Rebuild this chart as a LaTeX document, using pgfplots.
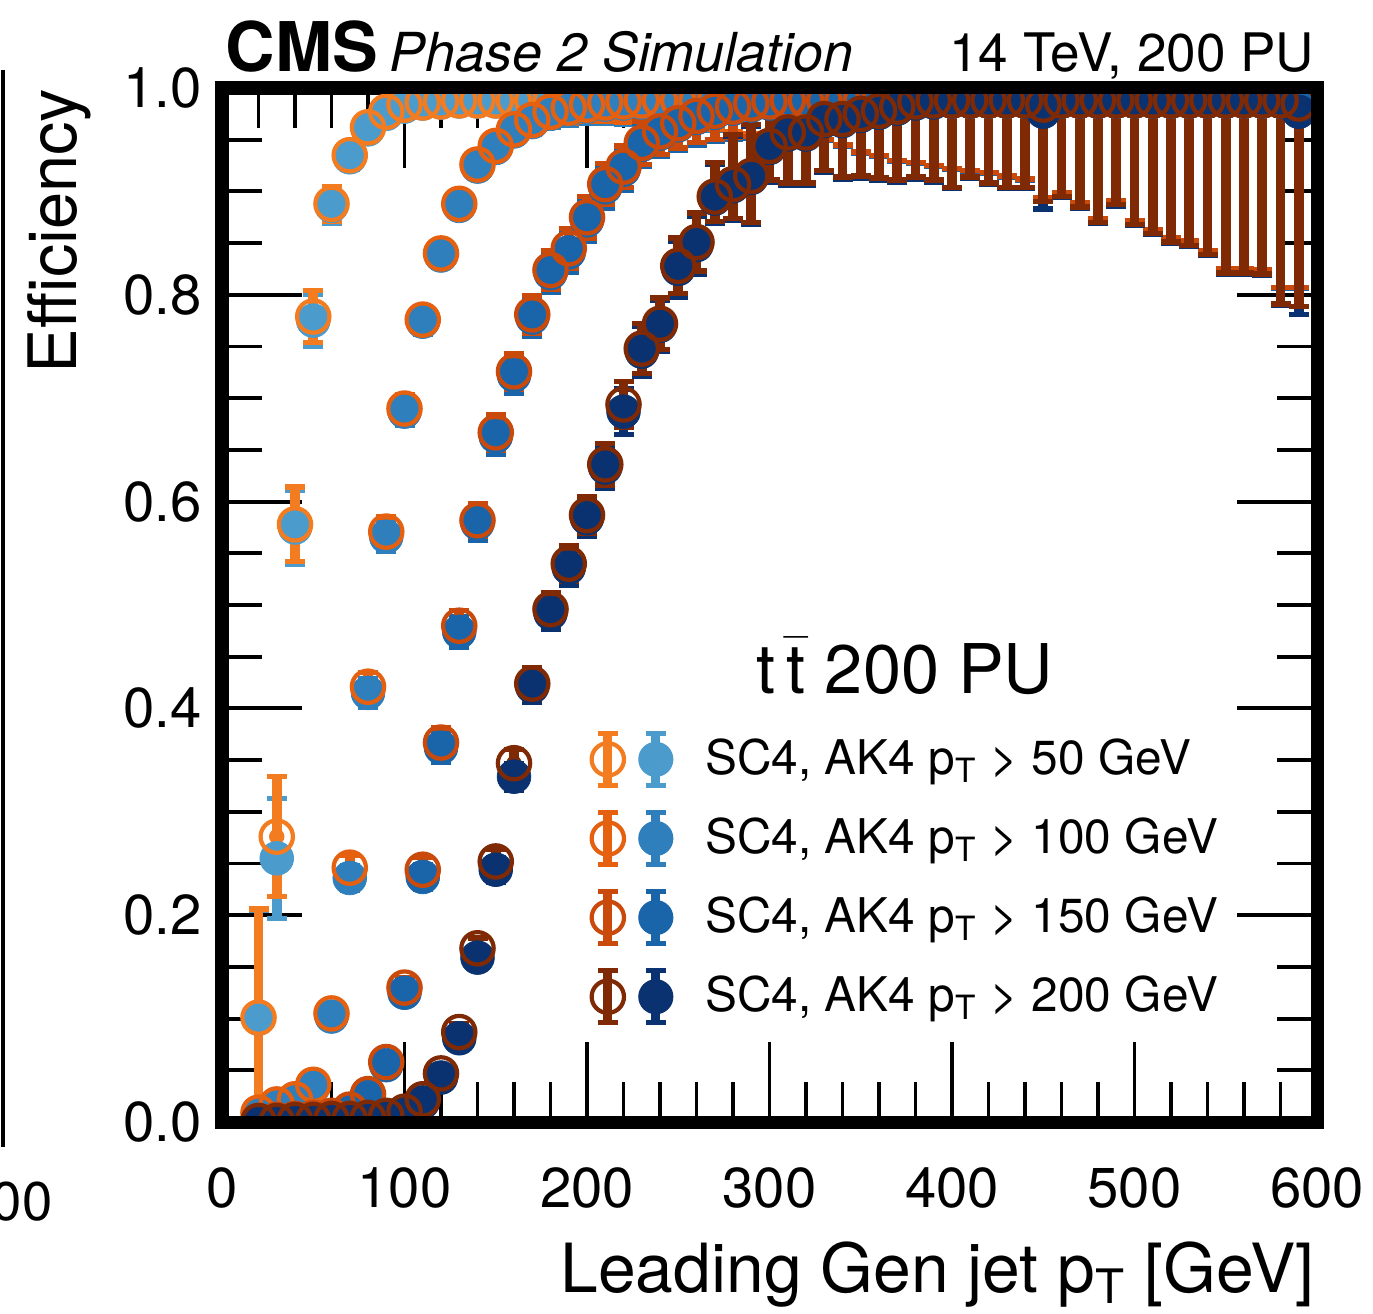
\documentclass[border=0pt]{standalone}
\usepackage{fontspec}
\setmainfont{TeX Gyre Heros}
\usepackage{pgfplots}
\usepackage{pgfplotstable}
\pgfplotsset{compat=1.18}

\definecolor{scA}{HTML}{F47C20}
\definecolor{scB}{HTML}{E5600F}
\definecolor{scC}{HTML}{C94A0A}
\definecolor{scD}{HTML}{7F2A04}
\definecolor{akA}{HTML}{4B9BCC}
\definecolor{akB}{HTML}{2F7FBD}
\definecolor{akC}{HTML}{1A65AA}
\definecolor{akD}{HTML}{0A3270}

% columns: x, AK4 eff, SC4 eff, error minus, error plus
\pgfplotstableread{
x ak sc em ep
20 0.100 0.101 0.100 0.105
30 0.255 0.276 0.058 0.058
40 0.575 0.578 0.036 0.036
50 0.775 0.779 0.025 0.025
60 0.886 0.888 0.017 0.017
70 0.933 0.935 0.012 0.012
80 0.960 0.962 0.008 0.008
90 0.975 0.977 0.006 0.006
100 0.982 0.984 0.005 0.005
110 0.985 0.986 0.005 0.005
120 0.986 0.987 0.006 0.006
130 0.987 0.988 0.007 0.007
140 0.987 0.988 0.008 0.008
150 0.987 0.988 0.010 0.010
160 0.987 0.988 0.011 0.011
170 0.987 0.988 0.012 0.012
180 0.987 0.988 0.013 0.012
190 0.987 0.988 0.015 0.012
200 0.987 0.988 0.016 0.012
210 0.987 0.988 0.018 0.012
220 0.987 0.988 0.020 0.012
230 0.987 0.988 0.021 0.012
240 0.987 0.988 0.023 0.012
250 0.987 0.988 0.025 0.012
260 0.987 0.988 0.026 0.012
270 0.987 0.988 0.028 0.012
280 0.987 0.988 0.030 0.012
290 0.987 0.988 0.032 0.012
300 0.987 0.988 0.033 0.012
310 0.987 0.988 0.035 0.012
320 0.987 0.988 0.037 0.012
330 0.987 0.988 0.038 0.012
340 0.987 0.988 0.043 0.012
350 0.987 0.988 0.050 0.012
360 0.987 0.988 0.053 0.012
370 0.987 0.988 0.058 0.012
380 0.987 0.988 0.060 0.012
390 0.987 0.988 0.063 0.012
400 0.987 0.988 0.066 0.012
410 0.987 0.988 0.068 0.012
420 0.987 0.988 0.070 0.012
430 0.987 0.988 0.073 0.012
440 0.987 0.988 0.076 0.012
450 0.987 0.988 0.094 0.012
460 0.987 0.988 0.089 0.012
470 0.987 0.988 0.099 0.012
480 0.987 0.988 0.114 0.012
490 0.987 0.988 0.097 0.012
500 0.987 0.988 0.116 0.012
510 0.987 0.988 0.125 0.012
520 0.987 0.988 0.133 0.012
530 0.987 0.988 0.136 0.012
540 0.987 0.988 0.145 0.012
550 0.987 0.988 0.163 0.012
560 0.987 0.988 0.163 0.012
570 0.987 0.988 0.164 0.012
580 0.987 0.988 0.181 0.012
590 0.987 0.988 0.181 0.012
}\tabA

\pgfplotstableread{
x ak sc em ep
20 0.008 0.009 0.005 0.005
30 0.015 0.017 0.006 0.006
40 0.020 0.022 0.006 0.006
50 0.034 0.036 0.007 0.007
60 0.102 0.105 0.008 0.008
70 0.236 0.246 0.012 0.012
80 0.415 0.421 0.014 0.014
90 0.566 0.571 0.014 0.014
100 0.687 0.690 0.013 0.013
110 0.774 0.776 0.012 0.012
120 0.838 0.840 0.011 0.011
130 0.886 0.888 0.010 0.010
140 0.924 0.926 0.009 0.009
150 0.942 0.944 0.010 0.010
160 0.958 0.960 0.011 0.011
170 0.967 0.969 0.012 0.012
180 0.975 0.977 0.013 0.010
190 0.979 0.981 0.015 0.010
200 0.982 0.984 0.016 0.010
210 0.984 0.986 0.018 0.010
220 0.985 0.987 0.020 0.010
230 0.986 0.988 0.021 0.010
240 0.987 0.988 0.023 0.012
250 0.987 0.988 0.025 0.012
260 0.987 0.988 0.026 0.012
270 0.987 0.988 0.028 0.012
280 0.987 0.988 0.030 0.012
290 0.987 0.988 0.032 0.012
300 0.987 0.988 0.033 0.012
310 0.987 0.988 0.035 0.012
320 0.987 0.988 0.037 0.012
330 0.987 0.988 0.038 0.012
340 0.987 0.988 0.043 0.012
350 0.987 0.988 0.050 0.012
360 0.987 0.988 0.053 0.012
370 0.987 0.988 0.058 0.012
380 0.987 0.988 0.060 0.012
390 0.987 0.988 0.063 0.012
400 0.987 0.988 0.066 0.012
410 0.987 0.988 0.068 0.012
420 0.987 0.988 0.070 0.012
430 0.987 0.988 0.073 0.012
440 0.987 0.988 0.076 0.012
450 0.987 0.988 0.094 0.012
460 0.987 0.988 0.089 0.012
470 0.987 0.988 0.099 0.012
480 0.987 0.988 0.114 0.012
490 0.987 0.988 0.097 0.012
500 0.987 0.988 0.116 0.012
510 0.987 0.988 0.125 0.012
520 0.987 0.988 0.133 0.012
530 0.987 0.988 0.136 0.012
540 0.987 0.988 0.145 0.012
550 0.987 0.988 0.163 0.012
560 0.987 0.988 0.163 0.012
570 0.987 0.988 0.164 0.012
580 0.987 0.988 0.181 0.012
590 0.987 0.988 0.181 0.012
}\tabB

\pgfplotstableread{
x ak sc em ep
20 0.001 0.001 0.001 0.003
30 0.001 0.002 0.001 0.003
40 0.002 0.003 0.002 0.003
50 0.003 0.004 0.002 0.003
60 0.005 0.006 0.002 0.003
70 0.010 0.012 0.003 0.003
80 0.025 0.027 0.004 0.004
90 0.055 0.058 0.006 0.006
100 0.125 0.130 0.010 0.010
110 0.237 0.244 0.012 0.012
120 0.362 0.367 0.014 0.014
130 0.474 0.480 0.015 0.015
140 0.579 0.582 0.016 0.016
150 0.663 0.667 0.017 0.017
160 0.722 0.726 0.017 0.017
170 0.778 0.781 0.018 0.018
180 0.821 0.824 0.019 0.019
190 0.841 0.845 0.019 0.019
200 0.872 0.875 0.020 0.020
210 0.904 0.907 0.020 0.020
220 0.921 0.924 0.020 0.020
230 0.945 0.947 0.021 0.021
240 0.956 0.958 0.022 0.020
250 0.964 0.966 0.024 0.020
260 0.971 0.973 0.026 0.018
270 0.976 0.978 0.028 0.016
280 0.980 0.982 0.030 0.015
290 0.983 0.985 0.032 0.013
300 0.985 0.987 0.033 0.012
310 0.987 0.988 0.035 0.012
320 0.987 0.988 0.037 0.012
330 0.987 0.988 0.038 0.012
340 0.987 0.988 0.043 0.012
350 0.987 0.988 0.050 0.012
360 0.987 0.988 0.053 0.012
370 0.987 0.988 0.058 0.012
380 0.987 0.988 0.060 0.012
390 0.987 0.988 0.063 0.012
400 0.987 0.988 0.066 0.012
410 0.987 0.988 0.068 0.012
420 0.987 0.988 0.070 0.012
430 0.987 0.988 0.073 0.012
440 0.987 0.988 0.076 0.012
450 0.987 0.988 0.094 0.012
460 0.987 0.988 0.089 0.012
470 0.987 0.988 0.099 0.012
480 0.987 0.988 0.114 0.012
490 0.987 0.988 0.097 0.012
500 0.987 0.988 0.116 0.012
510 0.987 0.988 0.125 0.012
520 0.987 0.988 0.133 0.012
530 0.987 0.988 0.136 0.012
540 0.987 0.988 0.145 0.012
550 0.987 0.988 0.163 0.012
560 0.987 0.988 0.163 0.012
570 0.987 0.988 0.164 0.012
580 0.987 0.988 0.181 0.012
590 0.987 0.988 0.181 0.012
}\tabC

\pgfplotstableread{
x ak sc em ep
20 0.001 0.001 0.001 0.003
30 0.001 0.001 0.001 0.003
40 0.001 0.002 0.001 0.003
50 0.002 0.002 0.002 0.003
60 0.002 0.003 0.002 0.003
70 0.003 0.003 0.002 0.003
80 0.003 0.004 0.002 0.003
90 0.005 0.006 0.002 0.003
100 0.008 0.010 0.003 0.004
110 0.019 0.022 0.004 0.004
120 0.043 0.047 0.006 0.006
130 0.081 0.087 0.008 0.008
140 0.159 0.168 0.010 0.010
150 0.244 0.252 0.012 0.012
160 0.334 0.347 0.013 0.013
170 0.421 0.424 0.015 0.015
180 0.492 0.496 0.016 0.016
190 0.536 0.540 0.017 0.017
200 0.584 0.587 0.018 0.018
210 0.633 0.636 0.020 0.020
220 0.687 0.694 0.022 0.022
230 0.745 0.748 0.024 0.024
240 0.770 0.772 0.025 0.025
250 0.825 0.828 0.027 0.027
260 0.848 0.851 0.028 0.028
270 0.893 0.895 0.024 0.033
280 0.905 0.907 0.033 0.048
290 0.913 0.915 0.045 0.050
300 0.942 0.944 0.033 0.056
310 0.955 0.957 0.049 0.043
320 0.955 0.957 0.049 0.043
330 0.968 0.970 0.050 0.030
340 0.968 0.970 0.056 0.030
350 0.973 0.975 0.060 0.025
360 0.976 0.978 0.065 0.022
370 0.980 0.982 0.071 0.018
380 0.985 0.987 0.073 0.013
390 0.986 0.988 0.077 0.012
400 0.987 0.988 0.084 0.012
410 0.987 0.988 0.074 0.012
420 0.987 0.988 0.080 0.012
430 0.987 0.988 0.084 0.012
440 0.987 0.988 0.084 0.012
450 0.977 0.984 0.094 0.016
460 0.987 0.988 0.093 0.012
470 0.987 0.988 0.103 0.012
480 0.987 0.988 0.118 0.012
490 0.987 0.988 0.101 0.012
500 0.987 0.988 0.120 0.012
510 0.987 0.988 0.129 0.012
520 0.987 0.988 0.137 0.012
530 0.987 0.988 0.140 0.012
540 0.987 0.988 0.149 0.012
550 0.987 0.988 0.167 0.012
560 0.987 0.988 0.167 0.012
570 0.987 0.988 0.168 0.012
580 0.987 0.988 0.197 0.012
590 0.977 0.985 0.196 0.015
}\tabD

\pgfplotsset{
  ebar/.style={forget plot, only marks, mark=none, color=#1,
    error bars/.cd, y dir=both, y explicit,
    error mark=|,
    error bar style={line width=2.8pt, color=#1},
    error mark options={line width=1.5pt, mark size=0.1cm, color=#1}},
  akmk/.style={forget plot, only marks, mark=*, mark size=4.8pt, color=#1,
    mark options={draw=#1, fill=#1, line width=0.2pt}},
  scmk/.style={forget plot, only marks, mark=o, mark size=4.6pt, color=#1,
    mark options={line width=1.2pt}},
}

% legend glyph: SC4 open circle with bar, AK4 filled circle with bar
\newcommand{\legpair}[2]{%
  \draw[#2, line width=2.6pt] (0.48cm,-0.26cm) -- (0.48cm,0.26cm);
  \draw[#2, line width=1.5pt] (0.38cm,-0.26cm) -- (0.58cm,-0.26cm) (0.38cm,0.26cm) -- (0.58cm,0.26cm);
  \fill[#2] (0.48cm,0cm) circle (4.8pt);
  \draw[#1, line width=2.6pt] (0cm,-0.26cm) -- (0cm,0.26cm);
  \draw[#1, line width=1.5pt] (-0.1cm,-0.26cm) -- (0.1cm,-0.26cm) (-0.1cm,0.26cm) -- (0.1cm,0.26cm);
  \draw[#1, line width=1.2pt] (0cm,0cm) circle (4.6pt);
}

\begin{document}
\begin{tikzpicture}
\begin{axis}[
  scale only axis,
  width=10.95cm, height=10.34cm,
  xmin=0, xmax=600, ymin=0, ymax=1,
  xtick={0,100,200,300,400,500,600},
  ytick={0,0.2,0.4,0.6,0.8,1.0},
  minor x tick num=4, minor y tick num=3,
  tick pos=both, tick align=inside,
  major tick length=0.8cm, minor tick length=0.4cm,
  tick style={black, line width=1.1pt},
  axis line style={line width=3.7pt},
  clip marker paths=true,
  /pgf/number format/assume math mode=true,
  ticklabel style={font=\fontsize{16}{19}\selectfont},
  yticklabel style={/pgf/number format/fixed, /pgf/number format/fixed zerofill,
    /pgf/number format/precision=1, xshift=-0.08cm},
  xticklabel style={yshift=-0.33cm},
  xlabel={Leading Gen jet p\textsubscript{T} [GeV]},
  xlabel style={at={(axis description cs:1,0)}, anchor=north east, yshift=-1.07cm, xshift=0.1cm,
    font=\fontsize{19.3}{22}\selectfont},
  ylabel={Efficiency},
  ylabel style={at={(axis description cs:-0.149,1)}, anchor=east, inner sep=0pt,
    font=\fontsize{19}{22}\selectfont},
  legend cell align=left,
  legend style={draw=none, fill=none, inner sep=0pt,
    at={(axis description cs:0.335,0.381)}, anchor=north west,
    font=\fontsize{13.6}{16}\selectfont, row sep=0.18cm, column sep=0.25cm},
]
% error bars first, markers on top
\addplot[ebar=akA] table[x=x, y=ak, y error minus=em, y error plus=ep] {\tabA};
\addplot[ebar=scA] table[x=x, y=sc, y error minus=em, y error plus=ep] {\tabA};
\addplot[ebar=akB] table[x=x, y=ak, y error minus=em, y error plus=ep] {\tabB};
\addplot[ebar=scB] table[x=x, y=sc, y error minus=em, y error plus=ep] {\tabB};
\addplot[ebar=akC] table[x=x, y=ak, y error minus=em, y error plus=ep] {\tabC};
\addplot[ebar=scC] table[x=x, y=sc, y error minus=em, y error plus=ep] {\tabC};
\addplot[ebar=akD] table[x=x, y=ak, y error minus=em, y error plus=ep] {\tabD};
\addplot[ebar=scD] table[x=x, y=sc, y error minus=em, y error plus=ep] {\tabD};

\addplot[akmk=akA] table[x=x, y=ak] {\tabA};
\addplot[scmk=scA] table[x=x, y=sc] {\tabA};
\addplot[akmk=akB] table[x=x, y=ak] {\tabB};
\addplot[scmk=scB] table[x=x, y=sc] {\tabB};
\addplot[akmk=akC] table[x=x, y=ak] {\tabC};
\addplot[scmk=scC] table[x=x, y=sc] {\tabC};
\addplot[akmk=akD] table[x=x, y=ak] {\tabD};
\addplot[scmk=scD] table[x=x, y=sc] {\tabD};

\addlegendimage{legend image code/.code={\legpair{scA}{akA}}}
\addlegendentry{SC4, AK4 p\textsubscript{T} > 50 GeV}
\addlegendimage{legend image code/.code={\legpair{scB}{akB}}}
\addlegendentry{SC4, AK4 p\textsubscript{T} > 100 GeV}
\addlegendimage{legend image code/.code={\legpair{scC}{akC}}}
\addlegendentry{SC4, AK4 p\textsubscript{T} > 150 GeV}
\addlegendimage{legend image code/.code={\legpair{scD}{akD}}}
\addlegendentry{SC4, AK4 p\textsubscript{T} > 200 GeV}

\coordinate (ll) at (rel axis cs:0,0);
\coordinate (ur) at (rel axis cs:1,1);
\coordinate (ul) at (rel axis cs:0,1);
\coordinate (hdr) at (rel axis cs:0.6237,0.441);
\end{axis}

% frame on top of the markers
\draw[line width=3.7pt] (ll) rectangle (ur);

\node[anchor=base west, inner sep=0pt] at ([xshift=0.03cm, yshift=0.16cm]ul)
  {{\fontsize{19.5}{22}\selectfont\bfseries CMS}\hspace{0.12cm}{\fontsize{15.3}{18}\selectfont\itshape Phase 2 Simulation}};
\node[anchor=base east, inner sep=0pt, font=\fontsize{15.1}{18}\selectfont]
  at ([xshift=-0.02cm, yshift=0.16cm]ur) {14 TeV, 200 PU};
\node[font=\fontsize{19.5}{22}\selectfont] at (hdr) {t\,$\bar{\mbox{t}}$ 200 PU};

% edge of the neighbouring panel
\draw[line width=1.2pt] ([xshift=-2.19cm, yshift=-0.25cm]ll) -- ([xshift=-2.19cm, yshift=10.52cm]ll);
\node[anchor=east, inner sep=0pt, font=\fontsize{15.5}{18}\selectfont]
  at ([xshift=-1.69cm, yshift=-0.80cm]ll) {00};

\pgfresetboundingbox
\useasboundingbox ([xshift=-2.22cm, yshift=-1.91cm]ll) rectangle ([xshift=0.56cm, yshift=0.88cm]ur);
\end{tikzpicture}
\end{document}
